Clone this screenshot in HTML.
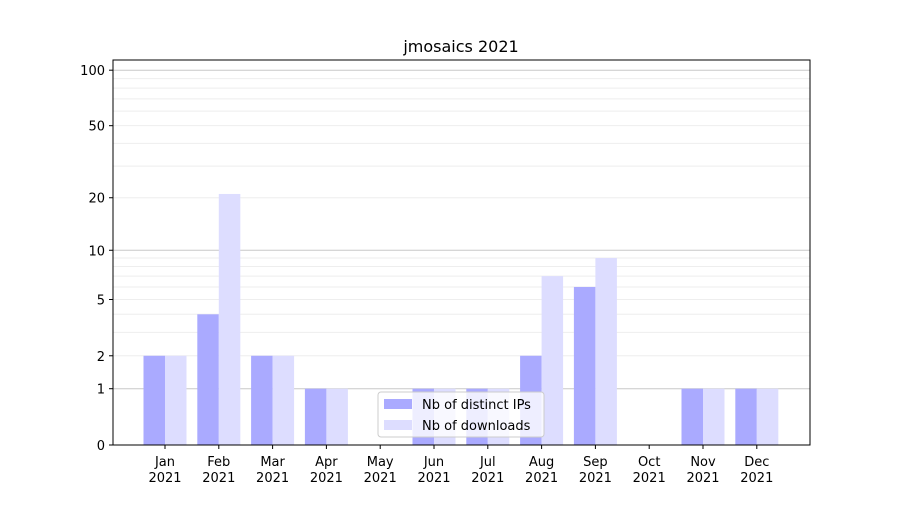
<!DOCTYPE html>
<html><head><meta charset="utf-8"><style>
body{margin:0;background:#fff;}
svg text{font-family:"DejaVu Sans","Liberation Sans",sans-serif;font-size:13px;fill:#000;}
</style></head><body>
<svg id="chart" width="900" height="500" xmlns="http://www.w3.org/2000/svg">
<rect width="900" height="500" fill="#fff"/>
<text x="461" y="52" text-anchor="middle" style="font-size:16px">jmosaics 2021</text>
<g id="grid"></g><g id="bars"></g><g id="axes"></g>
<g id="legend">
<rect x="378" y="392" width="166" height="45" rx="3" fill="#fff" fill-opacity="0.8" stroke="#ccc"/>
<rect x="384" y="399" width="28" height="10" fill="#aaaaff"/>
<text x="422" y="409">Nb of distinct IPs</text>
<rect x="384" y="420" width="28" height="10" fill="#ddddff"/>
<text x="422" y="430">Nb of downloads</text>
</g>
</svg>
<script>
const categories=["Jan","Feb","Mar","Apr","May","Jun","Jul","Aug","Sep","Oct","Nov","Dec"];
const ips=[2,4,2,1,0,1,1,2,6,0,1,1];
const downloads=[2,21,2,1,0,1,1,7,9,0,1,1];
const yTicks=[0,1,2,5,10,20,50,100];
const NS="http://www.w3.org/2000/svg";
const L=113,R=810,T=60,B=445;
function y(v){return B-187*Math.log10(1+v);}
function x(i){return 165+i*53.8;}
function mk(tag,attrs,parent){const e=document.createElementNS(NS,tag);for(const k in attrs)e.setAttribute(k,attrs[k]);document.getElementById(parent).appendChild(e);return e;}
// grid
for(const d of [1,10]){for(let m=1;m<=9;m++){const v=d*m;const g=mk('line',{x1:L,x2:R,y1:y(v),y2:y(v),stroke:(m===1?'#c8c8c8':'#eeeeee'),'stroke-width':1},'grid');

}}
const g100=mk('line',{x1:L,x2:R,y1:y(100),y2:y(100),stroke:'#c8c8c8'},'grid');


// bars
categories.forEach((c,i)=>{
 const a=mk('rect',{x:x(i)-21.5,y:y(ips[i]),width:21.5,height:B-y(ips[i]),fill:'#aaaaff'},'bars');
 
 
 const b=mk('rect',{x:x(i),y:y(downloads[i]),width:21.5,height:B-y(downloads[i]),fill:'#ddddff'},'bars');
 
 
 mk('line',{x1:x(i),x2:x(i),y1:B,y2:B+4,stroke:'#000'},'axes');
 const t=mk('text',{x:x(i),y:B+21,'text-anchor':'middle'},'axes');t.textContent=c;
 
 
 const t2=mk('text',{x:x(i),y:B+37,'text-anchor':'middle'},'axes');t2.textContent='2021';
 
 
});
yTicks.forEach(v=>{
 mk('line',{x1:L-4,x2:L,y1:y(v),y2:y(v),stroke:'#000'},'axes');
 const t=mk('text',{x:L-8,y:y(v)+5,'text-anchor':'end'},'axes');t.textContent=v;
 
 
});
const f=mk('rect',{x:L,y:T,width:R-L,height:B-T,fill:'none',stroke:'#000','stroke-width':1},'axes');


</script>
</body></html>
